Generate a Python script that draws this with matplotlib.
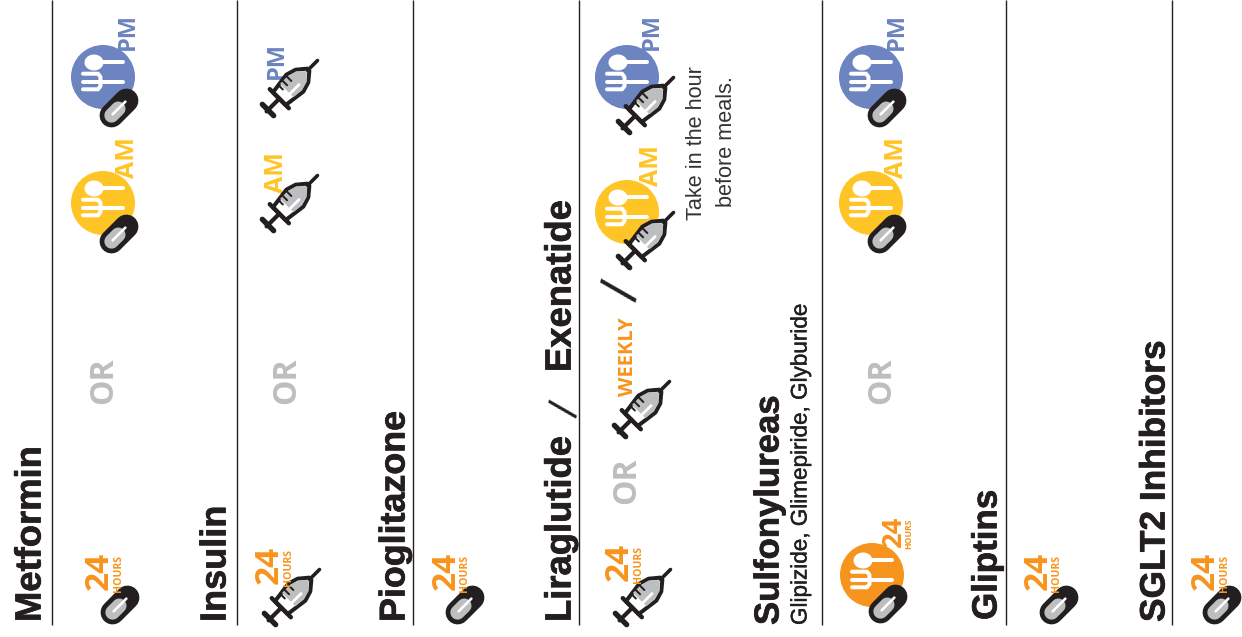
import numpy as np
import matplotlib
matplotlib.use("Agg")
import matplotlib.pyplot as plt
import matplotlib.patheffects as pe
from matplotlib.patches import Circle, Polygon

# colours
BLACK = "#231f20"
GREY = "#bcbec0"
ORANGE = "#f7941d"
YELLOW = "#ffc425"
BLUE = "#6c84c0"

HEAD = ["Liberation Sans"]
ICON = ["Open Sans"]

drug_names = ["Metformin", "Insulin", "Pioglitazone", "Liraglutide", "Exenatide",
              "Sulfonylureas", "Gliptins", "SGLT2 Inhibitors"]
drug_subtitle = "Glipizide, Glimepiride, Glyburide"
note_text = "Take in the hour\nbefore meals."
or_label = "OR"
weekly_label = "WEEKLY"
day_label = "24"
hours_label = "HOURS"
am_label = "AM"
pm_label = "PM"
divider_x = [52, 237, 413, 579, 822, 1006, 1172]

fig = plt.figure(figsize=(12.42, 6.37), dpi=100)
ax = fig.add_axes([0, 0, 1, 1])
ax.set_xlim(0, 1242)
ax.set_ylim(637, 0)
ax.axis("off")

PX = 0.72  # points per pixel at dpi 100


def vtext(x, y, s, size, color=BLACK, weight="bold", family=HEAD, rot=90, heavy=0, z=8):
    # y is the lower end of the rotated text
    t = ax.text(x, y, s, fontsize=size, color=color, fontweight=weight, family=family,
                rotation=rot, rotation_mode="anchor", ha="left", va="center", zorder=z)
    if heavy:
        t.set_path_effects([pe.withStroke(linewidth=heavy, foreground=color)])
    return t


def stroke(xs, ys, w, color, z=3, cap="round"):
    ax.plot(xs, ys, color=color, lw=w * PX, solid_capstyle=cap, solid_joinstyle="round", zorder=z)


def pill(cx, cy, z=5):
    d = np.array([0.707, -0.707])
    c = np.array([cx, cy], dtype=float)
    a = c - d * 10.5
    b = c + d * 10.5
    stroke([a[0], b[0]], [a[1], b[1]], 24, BLACK, z)
    m = c - d * 1
    stroke([a[0], m[0]], [a[1], m[1]], 14.5, GREY, z + 1)
    s = c - d * 9
    e = c + d * 9
    stroke([s[0], e[0]], [s[1], e[1]], 2.6, "white", z + 2)


def syringe(hx, hy, z=5):
    # hx, hy = centre of the plunger bar, needle runs up and to the right
    o = np.array([hx, hy], dtype=float)
    du = np.array([0.707, -0.707])
    dv = np.array([0.707, 0.707])

    def pts(uv):
        return np.array([o + u * du + v * dv for u, v in uv])

    body = pts([(16, -9), (38, -12), (48, -9), (57, -1.5), (57, 1.5), (48, 9), (38, 12), (16, 9)])
    ax.add_patch(Polygon(body, closed=True, fc="white", ec=BLACK, lw=4 * PX, joinstyle="round", zorder=z))
    grey = pts([(27, -10), (38, -10), (47, -7.5), (54, -1), (54, 1), (47, 7.5), (38, 10), (27, 9)])
    ax.add_patch(Polygon(grey, closed=True, fc=GREY, ec="none", zorder=z + 1))
    for seg, w, c in [([(-2, 0), (16, 0)], 4.2, BLACK),
                      ([(0, -8), (0, 8)], 5.4, BLACK),
                      ([(16, -13.5), (16, 13.5)], 4.4, BLACK),
                      ([(56, 0), (70, 0)], 3.6, BLACK),
                      ([(24, 4), (40, 4)], 2.8, "white"),
                      ([(25, -11), (25, -4)], 2, BLACK),
                      ([(31, -11), (31, -4)], 2, BLACK),
                      ([(37, -11), (37, -4)], 2, BLACK)]:
        p = pts(seg)
        stroke(p[:, 0], p[:, 1], w, c, z + 2)


def meal(cx, cy, color, z=2):
    ax.add_patch(Circle((cx, cy), 32, fc=color, ec="none", zorder=z))
    w = 4
    # spoon
    t = np.linspace(0, 2 * np.pi, 40)
    ax.fill(cx - 9 + 9.5 * np.cos(t), cy - 14.5 + 8 * np.sin(t), color="white", lw=0, zorder=z + 1)
    stroke([cx - 9, cx + 20], [cy - 15, cy - 15], w, "white", z + 1)
    # fork
    stroke([cx - 4, cx + 20], [cy + 4.7, cy + 4.7], w, "white", z + 1)
    stroke([cx - 20, cx - 5, cx - 2.5, cx - 2.5, cx - 5, cx - 20],
           [cy - 3.3, cy - 3.3, cy, cy + 9, cy + 12.3, cy + 12.3], w, "white", z + 1)
    stroke([cx - 20, cx - 4], [cy + 4.7, cy + 4.7], w, "white", z + 1)


def hours(x, y, scale=1.0, hx=None):
    # x is the centre line of the big 24, y its lower end
    vtext(x + 2, y, day_label, 24 * scale, ORANGE, family=ICON, z=4)
    vtext(x + 21 if hx is None else hx, y + 2, hours_label, 7.6 * scale, ORANGE, family=ICON, z=9)


def ampm(x, yam, ypm):
    vtext(x + 1.5, yam, am_label, 18, YELLOW, family=ICON, z=4)
    vtext(x + 1.5, ypm, pm_label, 17, BLUE, family=ICON, z=4)


def orlabel(x, y):
    vtext(x + 2.5, y - 2, or_label, 23, GREY, family=ICON, z=4)


for x in divider_x:
    ax.plot([x, x], [0, 625], color=BLACK, lw=1.4 * PX, solid_capstyle="butt", zorder=1)

# headers
H = 0.5
vtext(31, 622, drug_names[0], 26.2, heavy=H)
vtext(216, 622, drug_names[1], 26.0, heavy=H)
vtext(395, 622, drug_names[2], 25.8, heavy=H)
vtext(561, 622, drug_names[3], 26.2, heavy=H)
vtext(561, 372, drug_names[4], 26.2, heavy=H)
vtext(769, 625, drug_names[5], 25.0, heavy=H)
vtext(987, 620, drug_names[6], 25.2, heavy=H)
vtext(1155, 622, drug_names[7], 25.4, heavy=H)
vtext(801, 625, drug_subtitle, 16.2, weight="normal", heavy=0.3)
vtext(566, 415, "/", 30, weight="normal", rot=75)
vtext(622, 298, "/", 38, weight="normal", rot=75)

# Metformin
hours(97, 590)
pill(120, 605)
orlabel(101, 406)
meal(103, 203, YELLOW)
pill(119, 234)
meal(103, 77, BLUE)
pill(119, 108)
ampm(126, 178, 50)

# Insulin
hours(267, 584)
syringe(270, 619)
orlabel(284, 406)
ampm(275, 193, 79)
syringe(268, 225)
syringe(268, 110)

# Pioglitazone
hours(444, 590)
pill(465, 605)

# Liraglutide / Exenatide
hours(617, 581)
syringe(621, 619)
orlabel(624, 506)
vtext(628, 396, weekly_label, 14.5, ORANGE, family=ICON, z=4)
syringe(620, 431)
meal(627, 212, YELLOW)
meal(627, 77, BLUE)
syringe(624, 262)
syringe(624, 127)
ampm(650, 186, 50)
vtext(697, 220, note_text.split("\n")[0], 15.6, weight="normal", color="#333333")
vtext(727, 207, note_text.split("\n")[1], 15.6, weight="normal", color="#333333")

# Sulfonylureas
meal(872, 575, ORANGE)
pill(888, 604)
hours(892, 547, scale=0.82, hx=909)
orlabel(879, 406)
meal(871, 203, YELLOW)
pill(887, 234)
meal(871, 77, BLUE)
pill(887, 108)
ampm(895, 178, 50)

# Gliptins
hours(1036, 590)
pill(1059, 605)

# SGLT2 Inhibitors
hours(1203, 590)
pill(1222, 605)

fig.savefig("out.png", dpi=100, facecolor="white")
